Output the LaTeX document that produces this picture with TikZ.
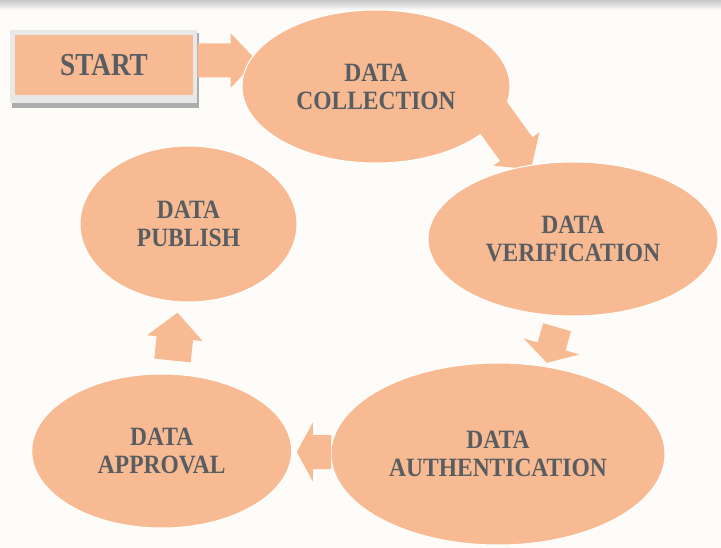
\documentclass[tikz,border=0pt]{standalone}
\usepackage{fontspec}
\setmainfont{Liberation Serif}
\usepackage{graphicx}
\usetikzlibrary{shapes.geometric}
\definecolor{salmon}{RGB}{247,186,146}
\definecolor{bgc}{RGB}{253,252,248}
\definecolor{txt}{RGB}{88,93,98}
\definecolor{bandgray}{RGB}{200,200,200}
\definecolor{framegray}{RGB}{232,232,232}
\definecolor{shadowgray}{RGB}{172,172,172}
\newcommand\cond[1]{\scalebox{0.89}[1]{#1}}
% block arrow: x, y, rotation, half length, shaft half width, head half width, head length
\newcommand\barrow[7]{%
  \begin{scope}[shift={(#1,#2)},rotate=#3]
    \fill[salmon] ({-#4},{-#5}) -- ({#4-#7},{-#5}) -- ({#4-#7},{-#6}) -- (#4,0)
      -- ({#4-#7},{#6}) -- ({#4-#7},{#5}) -- ({-#4},{#5}) -- cycle;
  \end{scope}}
\tikzset{
  ell/.style={ellipse, fill=salmon, draw=white, line width=1pt, inner sep=0pt,
    text=txt, align=center, font=\bfseries\fontsize{26.4}{28}\selectfont},
  startbox/.style={rectangle, fill=salmon, inner sep=0pt, text=txt,
    minimum width=178pt, minimum height=60pt, font=\bfseries\fontsize{32}{34}\selectfont}
}
\begin{document}
\begin{tikzpicture}[x=1pt,y=-1pt]
\useasboundingbox (0,0) rectangle (721,548);
\fill[bgc] (0,0) rectangle (721,548);
\shade[top color=bandgray, bottom color=bgc] (0,0) rectangle (721,10);

% START box with frame and shadow
\fill[shadowgray] (12,33) rectangle (199,108);
\fill[framegray] (10,30) rectangle (197,103);
\node[startbox] (start) at (104,65) {\scalebox{0.85}[1]{START}};

% START -> COLLECTION
\barrow{227}{60.5}{0}{29.5}{17}{27.5}{26}
\node[ell, minimum width=268pt, minimum height=153pt] (coll) at (376,86.5)
  {\cond{DATA}\\\cond{COLLECTION}};

% COLLECTION -> VERIFICATION
\barrow{507.8}{137.3}{-54}{39.5}{20}{28.5}{25}
\node[ell, minimum width=290pt, minimum height=154pt] (verif) at (573,239)
  {\cond{DATA}\\\cond{VERIFICATION}};

% VERIFICATION -> AUTHENTICATION
\barrow{552}{345}{-106}{18.5}{14.5}{29}{17}
\node[ell, minimum width=334pt, minimum height=182pt] (auth) at (498,454)
  {\cond{DATA}\\\cond{AUTHENTICATION}};

% AUTHENTICATION -> APPROVAL
\barrow{314}{452}{180}{17.2}{17}{29.5}{16}
\node[ell, minimum width=260pt, minimum height=154pt] (appr) at (161.7,451)
  {\cond{DATA}\\\cond{APPROVAL}};

% APPROVAL -> PUBLISH
\barrow{175}{336.6}{84}{24}{18.3}{28}{25.6}
\node[ell, minimum width=217pt, minimum height=156pt] (publ) at (188.5,224)
  {\cond{DATA}\\\cond{PUBLISH}};
\end{tikzpicture}
\end{document}
